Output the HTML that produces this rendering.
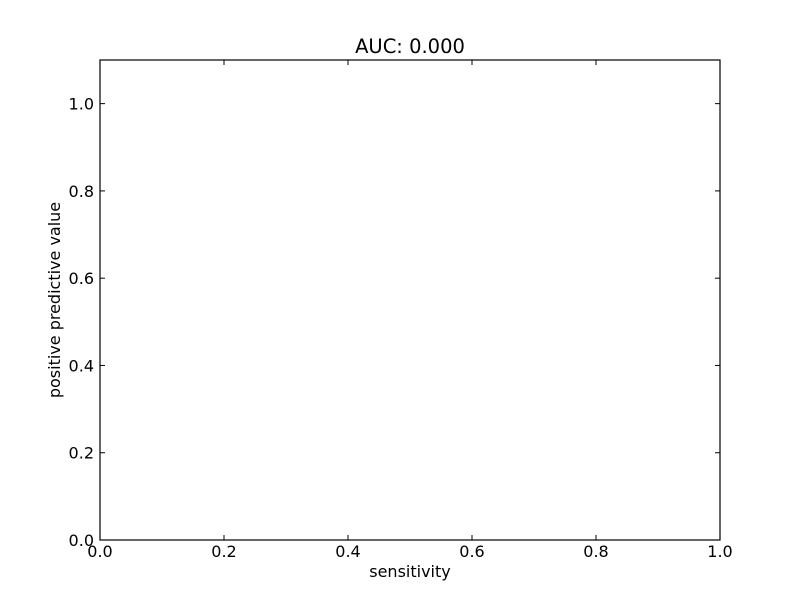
<!DOCTYPE html>
<html><head><meta charset="utf-8"><style>
body{margin:0;background:#fff;}
svg text{font-family:"DejaVu Sans","Liberation Sans",sans-serif;fill:#000;}
</style></head><body>
<svg id="chart" width="800" height="600">
<rect x="0" y="0" width="800" height="600" fill="#fff"/>
<text x="410" y="53" font-size="19.5" text-anchor="middle">AUC: 0.000</text>
<rect x="100" y="60" width="620" height="480" fill="none" stroke="#000" stroke-width="1.2"/>
<g id="ticks"></g>
<text x="410" y="577" font-size="16" text-anchor="middle">sensitivity</text>
<text x="60" y="300" font-size="16" text-anchor="middle" transform="rotate(-90 60 300)">positive predictive value</text>
</svg>
<script>
const xTicks=[0,0.2,0.4,0.6,0.8,1.0];
const yTicks=[0,0.2,0.4,0.6,0.8,1.0];
const xLabels=["0.0","0.2","0.4","0.6","0.8","1.0"];
const yLabels=["0.0","0.2","0.4","0.6","0.8","1.0"];
const xMin=0,xMax=1,yMin=0,yMax=1.1;
const L=100,R=720,T=60,B=540;
const sx=v=>L+(v-xMin)/(xMax-xMin)*(R-L);
const sy=v=>B-(v-yMin)/(yMax-yMin)*(B-T);
const g=document.getElementById('ticks');
const NS='http://www.w3.org/2000/svg';
function line(x1,y1,x2,y2){const l=document.createElementNS(NS,'line');l.setAttribute('x1',x1);l.setAttribute('y1',y1);l.setAttribute('x2',x2);l.setAttribute('y2',y2);l.setAttribute('stroke','#000');


g.appendChild(l);}
function text(x,y,s,anchor,name){const t=document.createElementNS(NS,'text');t.setAttribute('x',x);t.setAttribute('y',y);t.setAttribute('font-size','16');t.setAttribute('text-anchor',anchor);t.textContent=s;


g.appendChild(t);}
xTicks.forEach((v,i)=>{const x=sx(v);line(x,B,x,B-5);line(x,T,x,T+5);text(x,B+17,xLabels[i],'middle','x-tick-label');});
yTicks.forEach((v,i)=>{const y=sy(v);line(L,y,L+5,y);line(R,y,R-5,y);text(L-6,y+6,yLabels[i],'end','y-tick-label');});
</script>
</body></html>
